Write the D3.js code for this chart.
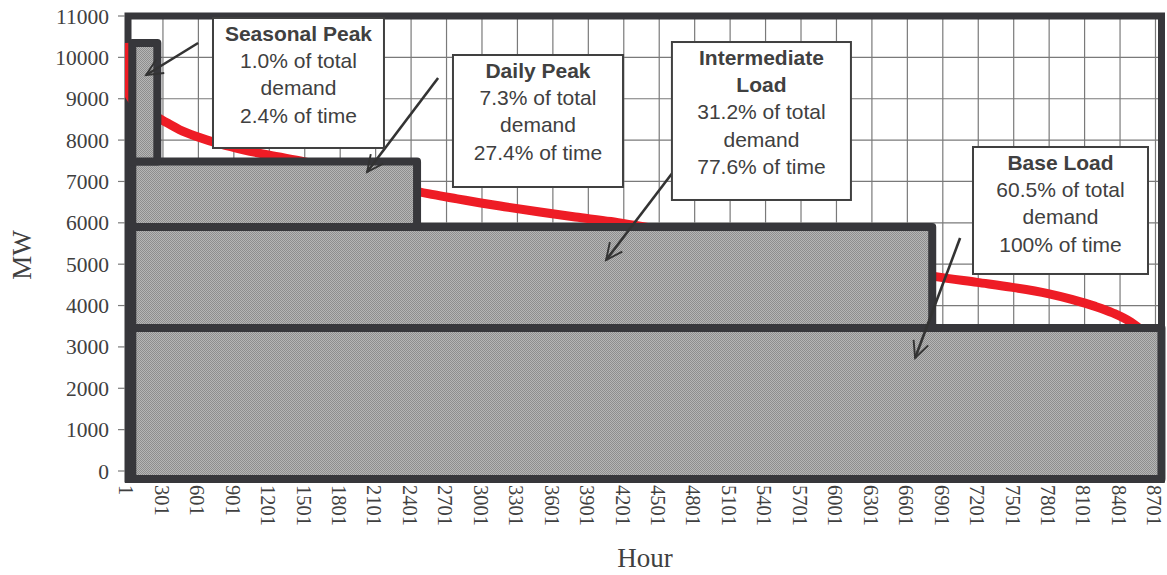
<!DOCTYPE html>
<html>
<head>
<meta charset="utf-8">
<script src="https://cdn.jsdelivr.net/npm/d3@7"></script>
<style>
  html, body { margin: 0; padding: 0; background: #fff; }
  svg { display: block; }
</style>
</head>
<body>
<svg id="chart" width="1167" height="575"></svg>
<script>
// ---------------- DATA ----------------
// Load duration curve (hour rank, MW)
const curveHours = [1, 3, 30, 100, 200, 300, 450, 600, 800, 1000, 1200, 1500, 1800, 2100, 2400, 2600, 2800, 3000, 3200, 3500, 3800, 4100, 4300, 4600, 5000, 5500, 6000, 6500, 6850, 7200, 7500, 7800, 8000, 8200, 8350, 8500, 8600, 8700, 8760];
const curveMW    = [10350, 9250, 9050, 8850, 8650, 8490, 8250, 8080, 7900, 7760, 7640, 7480, 7300, 7100, 6800, 6680, 6580, 6480, 6390, 6260, 6140, 6030, 5940, 5800, 5620, 5370, 5120, 4880, 4700, 4560, 4440, 4290, 4150, 3980, 3820, 3600, 3380, 3100, 2900];

// Load blocks (stacked): name, top MW, start hour, end hour
const blockNames = ["Base Load", "Intermediate Load", "Daily Peak", "Seasonal Peak"];
const blockTopMW = [3460, 5900, 7480, 10350];
const blockStartHour = [50, 50, 50, 50];
const blockEndHour = [8760, 6820, 2460, 262];

// Axis ticks
const yTicks = [0, 1000, 2000, 3000, 4000, 5000, 6000, 7000, 8000, 9000, 10000, 11000];
const xTicks = [1, 301, 601, 901, 1201, 1501, 1801, 2101, 2401, 2701, 3001, 3301, 3601, 3901, 4201, 4501, 4801, 5101, 5401, 5701, 6001, 6301, 6601, 6901, 7201, 7501, 7801, 8101, 8401, 8701];

// Callout texts
const calloutLines = [
  [{t: "Seasonal Peak", b: true}, {t: "1.0% of total"}, {t: "demand"}, {t: "2.4% of time"}],
  [{t: "Daily Peak", b: true}, {t: "7.3% of total"}, {t: "demand"}, {t: "27.4% of time"}],
  [{t: "Intermediate", b: true}, {t: "Load", b: true}, {t: "31.2% of total"}, {t: "demand"}, {t: "77.6% of time"}],
  [{t: "Base Load", b: true}, {t: "60.5% of total"}, {t: "demand"}, {t: "100% of time"}]
];
// Callout boxes in data coordinates: [hour0, hour1], [MWtop, MWbottom]
const calloutBoxHours = [[733, 2180], [2764, 4203], [4617, 6132], [7165, 8646]];
const calloutBoxMW = [[10952, 7809], [10057, 6866], [10371, 6552], [7833, 4763]];
// Arrows in data coordinates: from (hour, MW) to (hour, MW)
const arrowFrom = [[607, 10347], [2638, 9501], [4627, 7229], [7056, 5633]];
const arrowTo   = [[167, 9574], [2037, 7229], [4060, 5101], [6675, 2732]];

const xLabel = "Hour";
const yLabel = "MW";

// ---------------- LAYOUT ----------------
const svg = d3.select("#chart");
const W = 1167, H = 575;
const x = d3.scaleLinear().domain([1, 8760]).range([126.5, 126.5 + 8759 * 0.11816]);
const y = d3.scaleLinear().domain([0, 11000]).range([471, 16]);
const dark = "#37373b";
const frame = {left: 128, right: 1161.5, top: 16, bottom: 479};

svg.append("rect").attr("width", W).attr("height", H).attr("fill", "#fff");

// pattern for block fill
const defs = svg.append("defs");
const pat = defs.append("pattern").attr("id", "dots").attr("patternUnits", "userSpaceOnUse")
  .attr("width", 2).attr("height", 2);
pat.append("rect").attr("width", 2).attr("height", 2).attr("fill", "#b6b6b6");
pat.append("rect").attr("width", 1).attr("height", 1).attr("fill", "#8e8e8e");
pat.append("rect").attr("x", 1).attr("y", 1).attr("width", 1).attr("height", 1).attr("fill", "#8e8e8e");

defs.append("clipPath").attr("id", "plotclip").append("rect")
  .attr("x", 125).attr("y", 12).attr("width", 1041).attr("height", 471);

const arrowMarker = defs.append("marker").attr("id", "arrow")
  .attr("viewBox", "0 0 12 12").attr("refX", 10.5).attr("refY", 6)
  .attr("markerWidth", 8).attr("markerHeight", 8).attr("markerUnits", "strokeWidth")
  .attr("orient", "auto");
arrowMarker.append("path").attr("d", "M1,1.5 L10.5,6 L1,10.5").attr("fill", "none")
  .attr("stroke", "#333").attr("stroke-width", 1.1);

// gridlines
const grid = svg.append("g");
grid.selectAll("line.h").data(yTicks.filter(d => d > 0 && d < 11000)).enter().append("line")
  .attr("x1", frame.left).attr("x2", frame.right)
  .attr("y1", d => y(d)).attr("y2", d => y(d))
  .attr("stroke", "#7a7a7a").attr("stroke-width", 1.2);
grid.selectAll("line.v").data(xTicks.filter(d => d > 1)).enter().append("line")
  .attr("x1", d => x(d) + 1).attr("x2", d => x(d) + 1)
  .attr("y1", frame.top).attr("y2", frame.bottom)
  .attr("stroke", "#7a7a7a").attr("stroke-width", 1.2);

// plot frame
svg.append("rect")
  .attr("x", frame.left).attr("y", frame.top)
  .attr("width", frame.right - frame.left).attr("height", frame.bottom - frame.top)
  .attr("fill", "none").attr("stroke", dark).attr("stroke-width", 7);

// load duration curve
const curve = curveHours.map((h, i) => [h, curveMW[i]]);
svg.append("path").datum(curve)
  .attr("clip-path", "url(#plotclip)")
  .attr("d", d3.line().x(d => x(d[0])).y(d => y(d[1])).curve(d3.curveMonotoneX))
  .attr("fill", "none").attr("stroke", "#ee1c25").attr("stroke-width", 9)
  .attr("stroke-linejoin", "round");

// blocks (stacked)
const blocks = blockNames.map((n, i) => ({
  name: n,
  top: blockTopMW[i],
  bottom: i === 0 ? 0 : blockTopMW[i - 1],
  start: blockStartHour[i],
  end: blockEndHour[i]
}));
svg.append("g").selectAll("rect").data(blocks).enter().append("rect")
  .attr("x", d => x(d.start))
  .attr("y", d => y(d.top))
  .attr("width", d => x(d.end) - x(d.start))
  .attr("height", d => (d.bottom === 0 ? frame.bottom : y(d.bottom)) - y(d.top))
  .attr("fill", "url(#dots)")
  .attr("stroke", dark).attr("stroke-width", 8).attr("stroke-linejoin", "round");

// redraw bottom frame edge over blocks
svg.append("line").attr("x1", frame.left - 3).attr("x2", frame.right + 3)
  .attr("y1", frame.bottom).attr("y2", frame.bottom)
  .attr("stroke", dark).attr("stroke-width", 8);

// axes
const yAxis = svg.append("g");
yAxis.selectAll("line").data(yTicks).enter().append("line")
  .attr("x1", 118).attr("x2", 125).attr("y1", d => y(d)).attr("y2", d => y(d))
  .attr("stroke", "#7a7a7a").attr("stroke-width", 1.2);
yAxis.selectAll("text").data(yTicks).enter().append("text")
  .attr("x", 109).attr("y", d => y(d)).attr("dy", "0.35em")
  .attr("text-anchor", "end")
  .attr("font-family", "'Liberation Serif', 'DejaVu Serif', serif")
  .attr("font-size", 21.5).attr("fill", "#404040")
  .text(d => d);

const xAxis = svg.append("g");
xAxis.selectAll("text").data(xTicks).enter().append("text")
  .attr("transform", d => `translate(${x(d)},485) rotate(90)`)
  .attr("dy", "0.35em")
  .attr("text-anchor", "start")
  .attr("font-family", "'Liberation Serif', 'DejaVu Serif', serif")
  .attr("font-size", 20.5).attr("fill", "#404040")
  .text(d => d);

svg.append("text").attr("x", 645).attr("y", 558).attr("dy", "0.35em")
  .attr("text-anchor", "middle")
  .attr("font-family", "'Liberation Serif', 'DejaVu Serif', serif")
  .attr("font-size", 27).attr("fill", "#404040").text(xLabel);
svg.append("text").attr("transform", "translate(22,255) rotate(-90)").attr("dy", "0.35em")
  .attr("text-anchor", "middle")
  .attr("font-family", "'Liberation Serif', 'DejaVu Serif', serif")
  .attr("font-size", 27).attr("fill", "#404040").text(yLabel);

// callouts
const callouts = calloutLines.map((lines, i) => ({
  lines,
  h0: calloutBoxHours[i][0], h1: calloutBoxHours[i][1],
  v0: calloutBoxMW[i][0], v1: calloutBoxMW[i][1],
  from: arrowFrom[i], to: arrowTo[i]
}));
const cg = svg.append("g");
callouts.forEach(c => {
  cg.append("line")
    .attr("x1", x(c.from[0])).attr("y1", y(c.from[1]))
    .attr("x2", x(c.to[0])).attr("y2", y(c.to[1]))
    .attr("stroke", "#333").attr("stroke-width", 2.6)
    .attr("marker-end", "url(#arrow)");
});
callouts.forEach(c => {
  const bx = x(c.h0), bw = x(c.h1) - x(c.h0), by = y(c.v0), bh = y(c.v1) - y(c.v0);
  cg.append("rect").attr("x", bx).attr("y", by).attr("width", bw).attr("height", bh)
    .attr("fill", "#fff").attr("stroke", "#404040").attr("stroke-width", 2);
  cg.append("g").selectAll("text").data(c.lines).enter().append("text")
    .attr("x", bx + bw / 2)
    .attr("y", (d, j) => by + 15.5 + j * 27.3)
    .attr("dy", "0.35em")
    .attr("text-anchor", "middle")
    .attr("font-family", "'Liberation Sans', Arial, sans-serif")
    .attr("font-size", 21)
    .attr("font-weight", d => d.b ? "bold" : "normal")
    .attr("fill", "#404040")
    .text(d => d.t);
});
</script>
</body>
</html>
